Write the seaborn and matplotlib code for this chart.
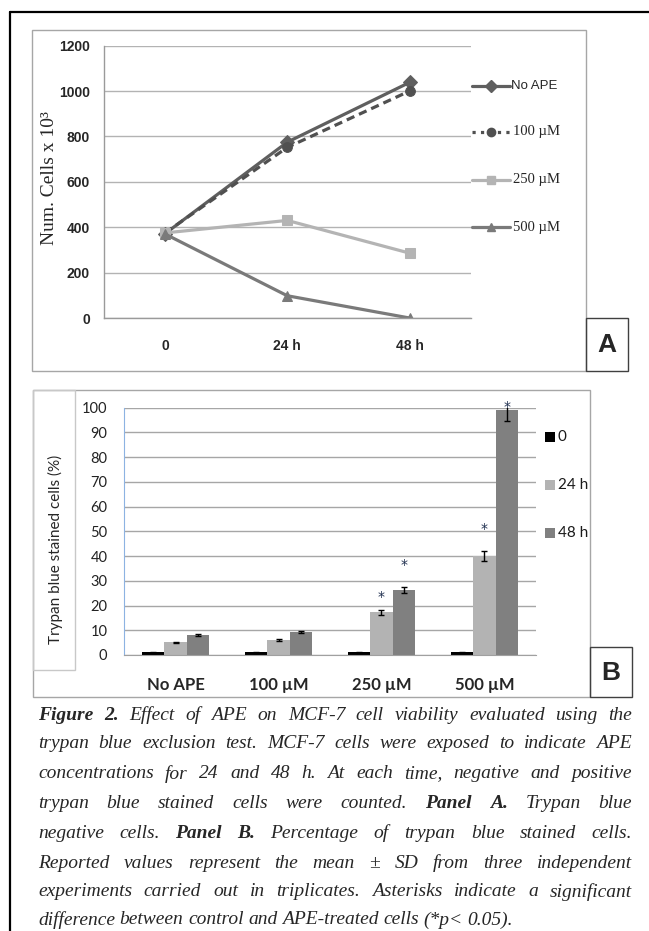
import numpy as np
import pandas as pd
import matplotlib
matplotlib.use('Agg')
import matplotlib.pyplot as plt
import seaborn as sns
from matplotlib.patches import Rectangle
from matplotlib.lines import Line2D

# Panel A: trypan blue negative cells (x 10^3)
times = ['0', '24 h', '48 h']
series_a = ['No APE', '100 µM', '250 µM', '500 µM']
no_ape = [372, 775, 1038]
um100 = [375, 752, 1000]
um250 = [375, 430, 286]
um500 = [370, 98, 0]

# Panel B: trypan blue stained cells (%)
conc = ['No APE', '100 µM', '250 µM', '500 µM']
hours = ['0', '24 h', '48 h']
stain_0h = [1.2, 1.2, 1.2, 1.2]
stain_24h = [5.1, 6.1, 17.3, 40.0]
stain_48h = [8.1, 9.2, 26.3, 99.2]
sd_0h = [0.2, 0.2, 0.2, 0.2]
sd_24h = [0.3, 0.3, 1.0, 2.0]
sd_48h = [0.4, 0.5, 1.3, 4.7]
star_conc = ['250 µM', '250 µM', '500 µM', '500 µM']
star_hour = ['24 h', '48 h', '24 h', '48 h']
star_y = [23.5, 36.5, 51.0, 100.3]

caption = [
    "**Figure** **2.** Effect of APE on MCF-7 cell viability evaluated using the",
    "trypan blue exclusion test. MCF-7 cells were exposed to indicate APE",
    "concentrations for 24 and 48 h. At each time, negative and positive",
    "trypan blue stained cells were counted. **Panel** **A**. Trypan blue",
    "negative cells. **Panel** **B.** Percentage of trypan blue stained cells.",
    "Reported values represent the mean ± SD from three independent",
    "experiments carried out in triplicates. Asterisks indicate a significant",
    "difference between control and APE-treated cells (*p< 0.05).",
]

sns.set_style('white')
plt.rcParams['font.family'] = ['DejaVu Sans']

W, H = 649, 931


def box(x0, y0, x1, y1):
    return [x0 / W, 1 - y1 / H, (x1 - x0) / W, (y1 - y0) / H]


def frame(x0, y0, x1, y1, color, lw):
    fig.add_artist(Rectangle((x0 / W, 1 - y1 / H), (x1 - x0) / W, (y1 - y0) / H,
                             transform=fig.transFigure, fill=False, ec=color, lw=lw))


fig = plt.figure(figsize=(W / 100, H / 100), dpi=100)

# outer frame (top and left edges)
fig.add_artist(Line2D([9.5 / W, 1], [1 - 12 / H] * 2, transform=fig.transFigure, color='black', lw=1.6))
fig.add_artist(Line2D([9.5 / W] * 2, [1 - 12 / H, 0], transform=fig.transFigure, color='black', lw=1.6))
frame(32, 30, 586, 371, '#a6a6a6', 1)
frame(586, 318, 628, 371, '#404040', 1)
frame(33, 390, 590, 697, '#a6a6a6', 1)
frame(33, 390, 74.5, 670, '#c8c8c8', 1)
frame(590, 647, 632, 697, '#404040', 1)
fig.text(607 / W, 1 - 345 / H, 'A', fontsize=19, fontweight='bold', family='Liberation Sans',
         ha='center', va='center')
fig.text(611 / W, 1 - 673 / H, 'B', fontsize=19, fontweight='bold', family='Liberation Sans',
         ha='center', va='center')

# ---------------- Panel A ----------------
narrow = ['Liberation Sans Narrow', 'Liberation Sans']
axA = fig.add_axes(box(104, 45.7, 470.6, 318))
styles_a = [
    (no_ape, '#5f5f5f', 'D', '-'),
    (um100, '#505050', 'o', (0, (2.6, 1.6))),
    (um250, '#b4b4b4', 's', '-'),
    (um500, '#7a7a7a', '^', '-'),
]
for vals, color, marker, ls in styles_a:
    sns.lineplot(x=times, y=vals, ax=axA, color=color, marker=marker, linestyle=ls,
                 linewidth=2.3, markersize=7, markeredgecolor=color, sort=False)
axA.set_xlim(-0.5, 2.5)
axA.set_ylim(0, 1200)
axA.set_yticks(np.arange(0, 1201, 200))
axA.set_xticks([0, 1, 2])
axA.set_xticklabels(times)
axA.set_xticks([-0.5, 0.5, 1.5, 2.5], minor=True)
axA.yaxis.grid(True, color='#b3b3b3', lw=1)
axA.set_axisbelow(True)
for s in ['top', 'right']:
    axA.spines[s].set_visible(False)
for s in ['left', 'bottom']:
    axA.spines[s].set_color('#9a9a9a')
    axA.spines[s].set_linewidth(1)
axA.tick_params(axis='x', which='major', length=0, pad=15)
axA.tick_params(axis='x', which='minor', length=5, color='#9a9a9a', direction='out')
axA.tick_params(axis='y', length=4, color='#9a9a9a', pad=6)
for lab in axA.get_xticklabels() + axA.get_yticklabels():
    lab.set_family(narrow)
    lab.set_fontweight('bold')
    lab.set_fontsize(10)
axA.set_xlabel('')
axA.set_ylabel('')
fig.text(50 / W, 1 - 178 / H, 'Num. Cells x 10³', rotation=90, family='Liberation Serif',
         fontsize=14, ha='center', va='center')

# legend A
leg_y = [86, 132, 180, 227]
leg_ls = ['-', ':', '-', '-']
for (vals, color, marker, ls), name, ly, lls in zip(styles_a, series_a, leg_y, leg_ls):
    yy = 1 - ly / H
    fig.add_artist(Line2D([472 / W, 491 / W, 510 / W], [yy] * 3, transform=fig.transFigure,
                          color=color, lw=2.3, linestyle=lls, marker=marker, markersize=6,
                          markevery=[1], markeredgecolor=color))
    if name == 'No APE':
        fig.text(511 / W, yy, name, family=narrow, fontsize=9.5, va='center', ha='left')
    else:
        fig.text(513 / W, yy, name, family='Liberation Serif', fontsize=10.5, va='center', ha='left')

# ---------------- Panel B ----------------
df = pd.DataFrame({
    'conc': conc * 3,
    'time': [hours[0]] * 4 + [hours[1]] * 4 + [hours[2]] * 4,
    'value': stain_0h + stain_24h + stain_48h,
})
sds = [sd_0h, sd_24h, sd_48h]
palette_b = ['#000000', '#b3b3b3', '#808080']

axB = fig.add_axes(box(124, 407.7, 536, 655))
sns.barplot(data=df, x='conc', y='value', hue='time', hue_order=hours, order=conc,
            palette=palette_b, width=0.66, errorbar=None, legend=False, ax=axB,
            linewidth=0, saturation=1)
centers = {}
bar_containers = list(axB.containers)
for hi, cont in enumerate(bar_containers):
    xs = [b.get_x() + b.get_width() / 2 for b in cont]
    ys = [b.get_height() for b in cont]
    axB.errorbar(xs, ys, yerr=sds[hi], fmt='none', ecolor='black', elinewidth=1,
                 capsize=2.5, capthick=1, zorder=5)
    for c, x in zip(conc, xs):
        centers[(c, hours[hi])] = x
for c, h, y in zip(star_conc, star_hour, star_y):
    axB.text(centers[(c, h)], y, '*', ha='center', va='center', fontsize=10,
             color='#1f2f4f', clip_on=False)

axB.set_xlim(-0.5, 3.5)
axB.set_ylim(0, 100)
axB.set_yticks(np.arange(0, 101, 10))
axB.set_xticks([-0.5, 0.5, 1.5, 2.5, 3.5], minor=True)
axB.yaxis.grid(True, color='#a6a6a6', lw=1)
axB.set_axisbelow(True)
for s in ['top', 'right']:
    axB.spines[s].set_visible(False)
axB.spines['left'].set_color('#8db3e2')
axB.spines['bottom'].set_color('#a0a0a0')
axB.tick_params(axis='x', which='major', length=0, pad=16)
axB.tick_params(axis='x', which='minor', length=6, color='#a0a0a0', direction='out')
axB.tick_params(axis='y', length=0, pad=12)
for lab in axB.get_yticklabels():
    lab.set_family(['Lato', 'DejaVu Sans'])
    lab.set_fontsize(10.5)
    lab.set_color('#222222')
for lab in axB.get_xticklabels():
    lab.set_family(['Lato', 'DejaVu Sans'])
    lab.set_fontsize(12)
    lab.set_fontweight('bold')
axB.set_xlabel('')
axB.set_ylabel('')
fig.text(55 / W, 1 - 549 / H, 'Trypan blue stained cells (%)', rotation=90,
         family=['Lato', 'DejaVu Sans'], fontsize=11, ha='center', va='center')

# legend B
for h, color, ly in zip(hours, palette_b, [437, 485, 533]):
    fig.add_artist(Rectangle((545 / W, 1 - (ly + 5) / H), 10 / W, 10 / H,
                             transform=fig.transFigure, fc=color, ec='none'))
    fig.text(558 / W, 1 - ly / H, h, family=['Lato', 'DejaVu Sans'], fontsize=11,
             va='center', ha='left', color='#1a1a1a')

# ---------------- caption (justified) ----------------
renderer = fig.canvas.get_renderer()
left, right = 38, 632
line_y = [715, 744, 774, 803, 833, 863, 892, 920]
for li, (line, ly) in enumerate(zip(caption, line_y)):
    words = []
    for w in line.split(' '):
        bold = w.startswith('**')
        txt = w.replace('**', '')
        t = fig.text(0, 1 - ly / H, txt, family='Liberation Serif', style='italic',
                     fontweight='bold' if bold else 'normal', fontsize=14,
                     va='center', ha='left')
        words.append(t)
    widths = [t.get_window_extent(renderer).width for t in words]
    if li == len(caption) - 1:
        gap = 4.6
    else:
        gap = (right - left - sum(widths)) / (len(words) - 1)
    x = left
    for t, wdt in zip(words, widths):
        t.set_x(x / W)
        x += wdt + gap

fig.savefig('out.png', dpi=100)
